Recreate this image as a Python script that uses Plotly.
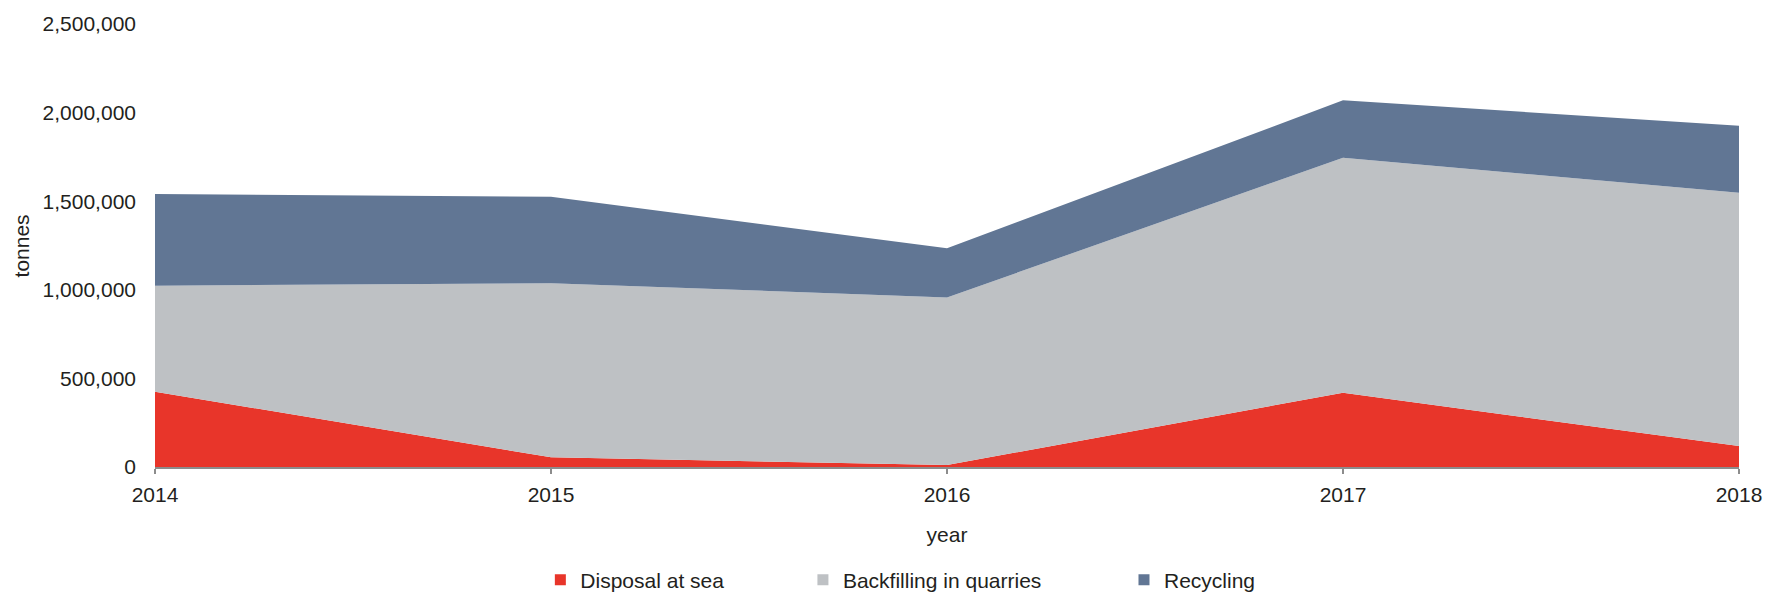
import plotly.graph_objects as go

years = [2014, 2015, 2016, 2017, 2018]
disposal_at_sea = [425000, 55000, 11000, 419000, 118000]
backfilling_in_quarries = [598000, 982000, 946000, 1326000, 1430000]
recycling = [518000, 488000, 277000, 324000, 378000]

series_names = ["Disposal at sea", "Backfilling in quarries", "Recycling"]
series_values = [disposal_at_sea, backfilling_in_quarries, recycling]
colors = ["#E8352A", "#BEC1C4", "#617694"]
legend_ids = ["legend", "legend2", "legend3"]
legend_x = [0.3058, 0.4544, 0.6361]

FONT = "Liberation Sans, Arial, sans-serif"
TEXT = "#231F20"

W, H = 1767, 593

fig = go.Figure()
for name, vals, col in zip(series_names, series_values, colors):
    fig.add_trace(go.Scatter(
        x=years, y=vals, name=name, mode="lines",
        stackgroup="one", line=dict(width=0, color=col),
        fillcolor=col, showlegend=False, hoverinfo="x+y+name",
    ))
for name, col, lid in zip(series_names, colors, legend_ids):
    fig.add_trace(go.Scatter(
        x=[None], y=[None], name=name, mode="markers",
        marker=dict(symbol="square", size=11, color=col),
        showlegend=True, legend=lid,
    ))

legend_common = dict(
    orientation="h", xref="container", yref="container",
    yanchor="middle", y=0.0219, xanchor="left",
    font=dict(family=FONT, size=21, color=TEXT),
    itemwidth=30, bgcolor="rgba(0,0,0,0)", borderwidth=0,
)
fig.update_layout(
    width=W, height=H,
    margin=dict(l=155, r=28, t=24, b=126, autoexpand=False),
    paper_bgcolor="white", plot_bgcolor="white",
    font=dict(family=FONT, size=21, color=TEXT),
    legend=dict(x=legend_x[0], **legend_common),
    legend2=dict(x=legend_x[1], **legend_common),
    legend3=dict(x=legend_x[2], **legend_common),
    xaxis=dict(
        range=[2014, 2018], tickmode="array", tickvals=years,
        ticktext=[str(y) for y in years], automargin=False,
        showgrid=False, zeroline=False, showline=True,
        linecolor="#8C8C8C", linewidth=2,
        ticks="outside", ticklen=5, tickwidth=2, tickcolor="#8C8C8C",
        ticklabelstandoff=3,
        tickfont=dict(family=FONT, size=21, color=TEXT),
        title=dict(text="year", font=dict(family=FONT, size=21, color=TEXT), standoff=22),
    ),
    yaxis=dict(
        range=[0, 2500000], dtick=500000, tickformat=",d",
        automargin=False,
        showgrid=False, zeroline=False, showline=False,
        ticks="", ticklabelstandoff=18,
        tickfont=dict(family=FONT, size=21, color=TEXT),
    ),
    annotations=[dict(
        text="tonnes", textangle=-90, showarrow=False,
        xref="paper", yref="paper", x=-0.084, y=0.5,
        xanchor="center", yanchor="middle",
        font=dict(family=FONT, size=21, color=TEXT),
    )],
)

fig.write_html(
    "out.html",
    config={"displayModeBar": False},
    post_script="document.body.style.margin='0';document.body.style.overflow='hidden';",
)
